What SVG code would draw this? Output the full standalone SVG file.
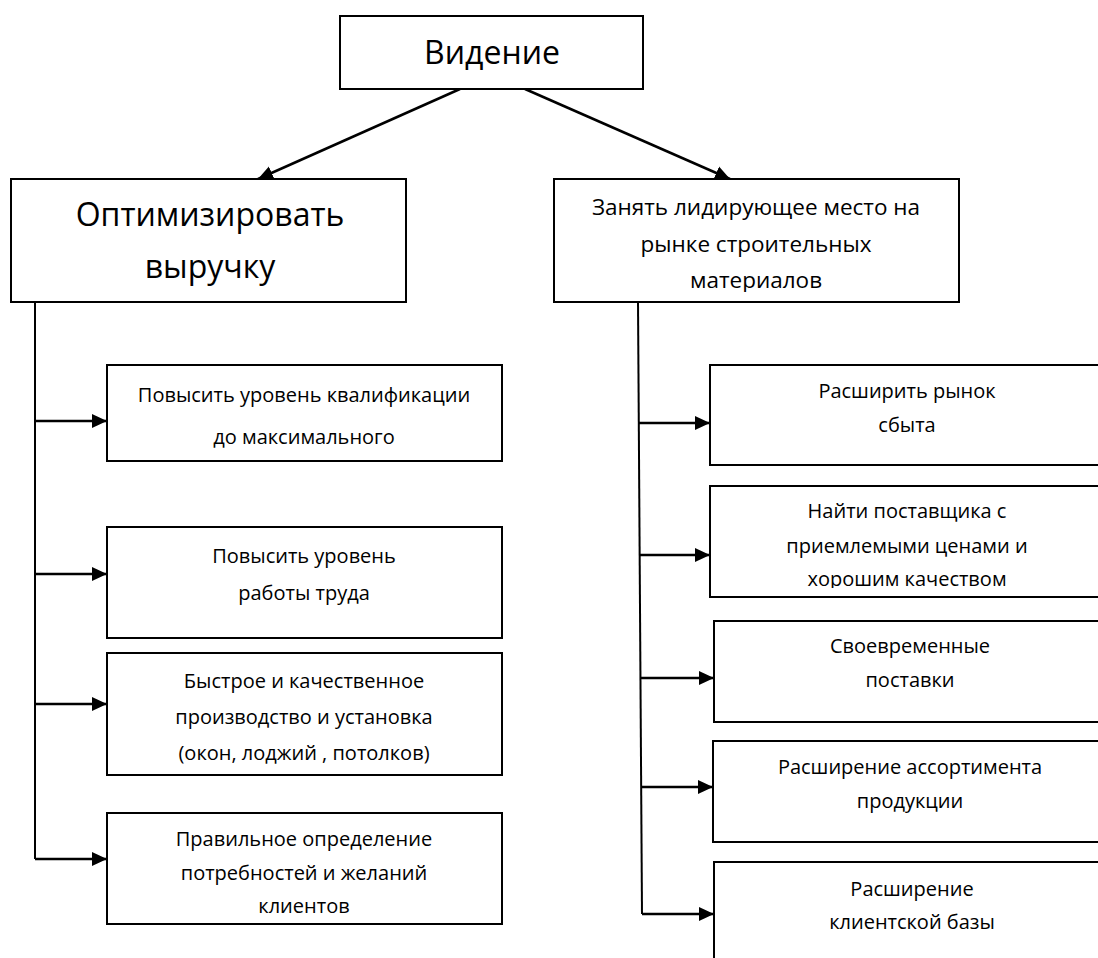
<svg xmlns="http://www.w3.org/2000/svg" width="1098" height="958" viewBox="0 0 1098 958">
<style>
.box{fill:#fff;stroke:#000;stroke-width:2}
.t{font-family:"Open Sans","Noto Sans","DejaVu Sans",sans-serif;fill:#000;text-anchor:middle}
.s20{font-size:20px}
.s22{font-size:22.5px}
.s31{font-size:32px}
.ln{stroke:#000;stroke-width:2;fill:none}
.ar{stroke:#000;stroke-width:2.5;fill:none;marker-end:url(#ah)}
</style>
<defs>
<marker id="ah" markerUnits="userSpaceOnUse" markerWidth="16" markerHeight="16" viewBox="0 0 16 16" refX="15" refY="8" orient="auto">
<path d="M0,1 L15,8 L0,15 Z" fill="#000"/>
</marker>
<clipPath id="cR"><rect x="554" y="179" width="405" height="113"/></clipPath>
<clipPath id="cR2"><rect x="710" y="486" width="400" height="102"/></clipPath>
</defs>
<rect width="1098" height="958" fill="#fff"/>

<g id="connectors">
<line class="ar" x1="460" y1="89" x2="258" y2="179"/>
<line class="ar" x1="525" y1="89" x2="730" y2="179"/>
<line class="ln" x1="35" y1="302" x2="35" y2="859"/>
<line class="ar" x1="35" y1="421" x2="107" y2="421"/>
<line class="ar" x1="35" y1="574" x2="107" y2="574"/>
<line class="ar" x1="35" y1="704" x2="107" y2="704"/>
<line class="ar" x1="35" y1="859" x2="107" y2="859"/>
<line class="ln" x1="638" y1="302" x2="642" y2="914"/>
<line class="ar" x1="639" y1="423" x2="710" y2="423"/>
<line class="ar" x1="640" y1="555" x2="710" y2="555"/>
<line class="ar" x1="641" y1="678" x2="714" y2="678"/>
<line class="ar" x1="641" y1="787" x2="713" y2="787"/>
<line class="ar" x1="642" y1="914" x2="714" y2="914"/>
</g>

<g id="vision">
<rect class="box" x="340" y="16" width="303" height="73"/>
<text class="t s31" x="492" y="64">Видение</text>
</g>

<g id="optimize">
<rect class="box" x="11" y="179" width="395" height="123"/>
<text class="t s31" x="210" y="226">Оптимизировать</text>
<text class="t s31" x="210" y="278">выручку</text>
</g>

<g id="leader">
<rect class="box" x="554" y="179" width="405" height="123"/>
<g clip-path="url(#cR)">
<text class="t s22" x="756" y="215">Занять лидирующее место на</text>
<text class="t s22" x="756" y="252">рынке строительных</text>
<text class="t s22" x="756" y="288">материалов</text>
</g>
</g>

<g id="l1">
<rect class="box" x="107" y="365" width="395" height="96"/>
<text class="t s20" x="304" y="402">Повысить уровень квалификации</text>
<text class="t s20" x="304" y="444">до максимального</text>
</g>

<g id="l2">
<rect class="box" x="107" y="527" width="395" height="111"/>
<text class="t s20" x="304" y="563">Повысить уровень</text>
<text class="t s20" x="304" y="600">работы труда</text>
</g>

<g id="l3">
<rect class="box" x="107" y="653" width="395" height="122"/>
<text class="t s20" x="304" y="688">Быстрое и качественное</text>
<text class="t s20" x="304" y="724">производство и установка</text>
<text class="t s20" x="304" y="760">(окон, лоджий , потолков)</text>
</g>

<g id="l4">
<rect class="box" x="107" y="813" width="395" height="111"/>
<text class="t s20" x="304" y="846">Правильное определение</text>
<text class="t s20" x="304" y="880">потребностей и желаний</text>
<text class="t s20" x="304" y="913">клиентов</text>
</g>

<g id="r1">
<rect class="box" x="710" y="365" width="400" height="100"/>
<text class="t s20" x="907" y="398">Расширить рынок</text>
<text class="t s20" x="907" y="432">сбыта</text>
</g>

<g id="r2">
<rect class="box" x="710" y="486" width="400" height="111"/>
<g clip-path="url(#cR2)">
<text class="t s20" x="907" y="518">Найти поставщика с</text>
<text class="t s20" x="907" y="553">приемлемыми ценами и</text>
<text class="t s20" x="907" y="586">хорошим качеством</text>
</g>
</g>

<g id="r3">
<rect class="box" x="714" y="621" width="400" height="101"/>
<text class="t s20" x="910" y="653">Своевременные</text>
<text class="t s20" x="910" y="687">поставки</text>
</g>

<g id="r4">
<rect class="box" x="713" y="741" width="400" height="101"/>
<text class="t s20" x="910" y="774">Расширение ассортимента</text>
<text class="t s20" x="910" y="808">продукции</text>
</g>

<g id="r5">
<rect class="box" x="714" y="862" width="400" height="110"/>
<text class="t s20" x="912" y="896">Расширение</text>
<text class="t s20" x="912" y="929">клиентской базы</text>
</g>
</svg>
